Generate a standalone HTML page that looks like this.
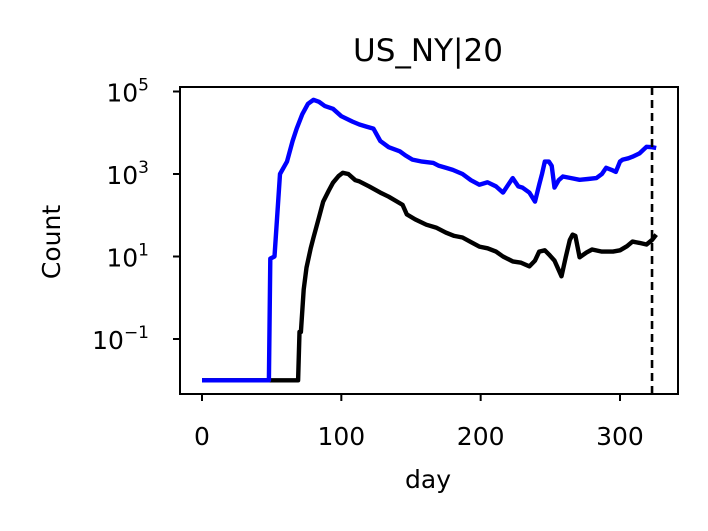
<!DOCTYPE html>
<html><head><meta charset="utf-8">
<style>
html,body{margin:0;padding:0;background:#fff;}
svg{display:block;font-family:"DejaVu Sans","Liberation Sans",sans-serif;}
</style></head>
<body>
<svg id="chart" width="708" height="531" viewBox="0 0 708 531" xmlns="http://www.w3.org/2000/svg"></svg>
<script>
// data (log10 of count)
const blueDays = [0,48,49,52,56,61,65,68,72,76,80,84,88,94,100,108,113,118,123,128,134,142,146,151,158,166,170,175,180,187,193,199,205,211,216,220,223,227,230,235,239,242,244,246,249,251,253,256,259,265,271,277,283,287,290,294,297,300,302,306,309,314,319,323,326];
const blueLog  = [-2,-2,0.95,1.0,3.0,3.3,3.8,4.1,4.45,4.7,4.8,4.75,4.65,4.58,4.4,4.27,4.2,4.15,4.1,3.8,3.65,3.55,3.45,3.35,3.3,3.27,3.2,3.15,3.1,3.0,2.85,2.74,2.8,2.7,2.55,2.75,2.9,2.7,2.67,2.55,2.33,2.74,3.0,3.3,3.3,3.2,2.67,2.85,2.94,2.9,2.86,2.88,2.9,3.0,3.15,3.1,3.05,3.3,3.35,3.38,3.42,3.5,3.66,3.65,3.63];
const blackDays = [0,69,70,71,73,75,78,80,84,87,91,94,98,101,105,110,113,120,128,134,140,144,147,153,161,168,175,181,187,193,199,205,211,216,223,229,235,239,242,246,249,253,258,261,264,266,268,271,276,280,287,295,300,305,309,314,319,323,326];
const blackLog  = [-2,-2,-0.83,-0.83,0.2,0.73,1.2,1.46,1.95,2.33,2.6,2.79,2.95,3.03,3.0,2.85,2.82,2.7,2.55,2.45,2.33,2.25,2.02,1.9,1.77,1.7,1.58,1.5,1.46,1.35,1.24,1.2,1.12,1.0,0.88,0.85,0.76,0.9,1.12,1.15,1.05,0.9,0.52,0.98,1.4,1.53,1.5,0.98,1.1,1.17,1.12,1.12,1.15,1.25,1.36,1.33,1.29,1.4,1.53];
const markerDay = 323;
const xTicks = [0,100,200,300];
const yTickExps = [-1,1,3,5];

const NS = "http://www.w3.org/2000/svg";
const svg = document.getElementById('chart');
const L=180, R=678, T=87, B=394;
function xs(d){ return 202 + d*1.3933; }
function ys(l){ return 339 - (l+1)*41.25; }
function mk(tag, attrs, parent){ const e=document.createElementNS(NS,tag); for(const k in attrs) e.setAttribute(k,attrs[k]); (parent||svg).appendChild(e); return e; }

const title = mk('text',{x:428,y:61,'text-anchor':'middle','font-size':31,fill:'#000'});


title.textContent='US_NY|20';

const clip = mk('clipPath',{id:'pc'}); mk('rect',{x:L,y:T,width:R-L,height:B-T},clip);

function line(days, vals, color, name){
  let d=''; days.forEach((v,i)=>{ d += (i?'L':'M') + xs(v).toFixed(1) + ',' + ys(vals[i]).toFixed(1); });
  const p = mk('path',{d:d,fill:'none',stroke:color,'stroke-width':4.4,'stroke-linejoin':'round','clip-path':'url(#pc)'});
  
  
}
line(blackDays, blackLog, '#000', 'black-series-line');
line(blueDays, blueLog, '#0000ff', 'blue-series-line');

const vl = mk('line',{x1:xs(markerDay),x2:xs(markerDay),y1:T,y2:B,stroke:'#000','stroke-width':2.6,'stroke-dasharray':'8,5'});



const frame = mk('rect',{x:L,y:T,width:R-L,height:B-T,fill:'none',stroke:'#000','stroke-width':2});



xTicks.forEach(t=>{
  mk('line',{x1:xs(t),x2:xs(t),y1:B,y2:B+7,stroke:'#000','stroke-width':2});
  const tx = mk('text',{x:xs(t),y:445,'text-anchor':'middle','font-size':25});
  
  
  tx.textContent=t;
});
yTickExps.forEach(e=>{
  const y=ys(e);
  mk('line',{x1:L-7,x2:L,y1:y,y2:y,stroke:'#000','stroke-width':2});
  const tx = mk('text',{x:149,y:y+10,'text-anchor':'end','font-size':25});
  
  
  tx.appendChild(document.createTextNode('10'));
  const sp = mk('tspan',{'font-size':17,dy:-11},tx);
  sp.textContent = e<0 ? '\u2212'+Math.abs(e) : String(e);
});

const xl = mk('text',{x:428,y:488,'text-anchor':'middle','font-size':25});


xl.textContent='day';
const yl = mk('text',{x:0,y:0,'text-anchor':'middle','font-size':25,transform:'translate(60,242) rotate(-90)'});


yl.textContent='Count';
</script>
</body></html>
